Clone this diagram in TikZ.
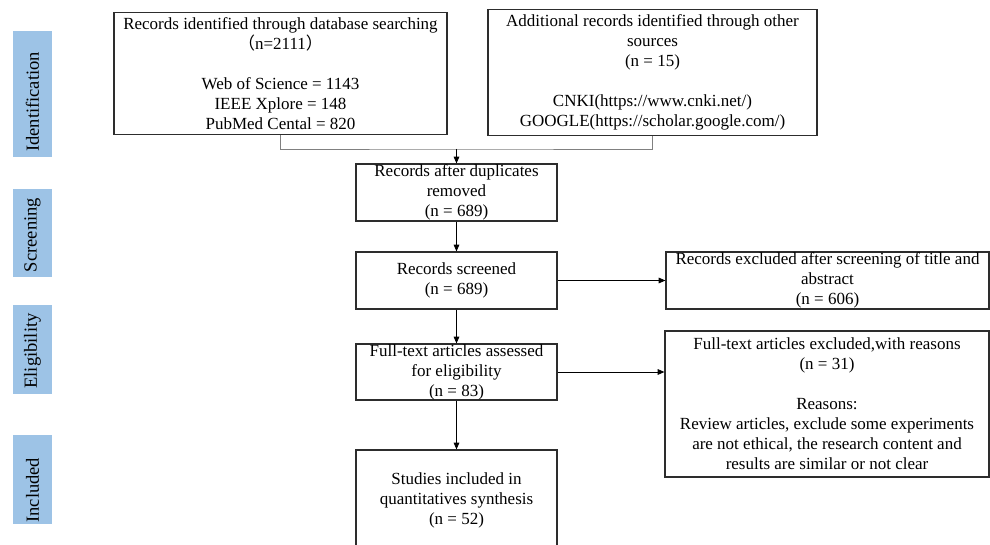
\documentclass[tikz,border=0pt]{standalone}
\usepackage{fontspec}
\setmainfont{Liberation Serif}
\newfontfamily\cjk{Noto Sans CJK SC}
\usetikzlibrary{arrows.meta, positioning}
\definecolor{stageblue}{RGB}{157,195,230}
\definecolor{boxline}{RGB}{45,45,45}
\definecolor{joingray}{RGB}{128,128,128}

\begin{document}
\begin{tikzpicture}[x=0.75pt, y=-0.75pt,
      box/.style={draw=boxline, line width=0.9pt, align=center, inner sep=0pt,
                  font=\fontsize{12.75}{15}\selectfont},
      stage/.style={fill=stageblue, rotate=90, inner sep=0pt,
                    minimum height=29.25pt, font=\fontsize{13.9}{16}\selectfont},
      arr/.style={-{Triangle[length=5pt,width=4.2pt]}, line width=0.6pt, black},
      mergeline/.style={line width=0.7pt, joingray}
    ]
    \useasboundingbox (0,0) rectangle (990,545);

    \node[stage, minimum width=94.5pt]  (ident) at (32.5,94)    {Identification\kern12pt};
    \node[stage, minimum width=66pt]    (scrn)  at (32.5,233)   {Screening\kern3pt};
    \node[stage, minimum width=66.75pt] (elig)  at (32.5,349.5) {Eligibility\kern2.25pt};
    \node[stage, minimum width=66.75pt] (incl)  at (32.5,479.5) {Included\kern16pt};

    \node[box, minimum width=249.75pt, minimum height=91.5pt] (db) at (280.5,73.5)
      {Records identified through database searching\\{\cjk （}n=2111{\cjk ）}\\[15pt]
       Web of Science = 1143\\IEEE Xplore = 148\\PubMed Cental = 820};
    \node[box, minimum width=246.75pt, minimum height=94.5pt] (other) at (652.5,72.5)
      {Additional records identified through other\\sources\\(n = 15)\\[15pt]
       CNKI(https://www.cnki.net/)\\GOOGLE(https://scholar.google.com/)};
    \node[box, minimum width=150.75pt, minimum height=42.75pt] (dup) at (456.5,192.5)
      {Records after duplicates\\removed\\(n = 689)};
    \node[box, minimum width=150.75pt, minimum height=42.75pt] (scr) at (456.5,280.5)
      {Records screened\\(n = 689)};
    \node[box, minimum width=242.25pt, minimum height=42.75pt] (exc) at (827.5,280.5)
      {Records excluded after screening of title and\\abstract\\(n = 606)};
    \node[box, minimum width=150.75pt, minimum height=42pt] (full) at (456.5,372)
      {Full-text articles assessed\\for eligibility\\(n = 83)};
    \node[box, minimum width=243pt, minimum height=109.5pt] (why) at (827,404)
      {Full-text articles excluded,with reasons\\(n = 31)\\[15pt]
       Reasons:\\Review articles, exclude some experiments\\are not ethical, the research content and\\results are similar or not clear};
    \node[box, minimum width=150.75pt, minimum height=75pt] (study) at (456.5,500)
      {Studies included in\\quantitatives synthesis\\(n = 52)};

    \coordinate (merge) at (456.5,149);
    \draw[mergeline] (db.south) |- (merge) -| (other.south);
    \draw[arr] (merge) -- (dup);
    \draw[arr] (dup) -- (scr);
    \draw[arr] (scr) -- (exc);
    \draw[arr] (scr) -- (full);
    \draw[arr] (full.east) -- (full.east -| why.west);
    \draw[arr] (full) -- (study);
  \end{tikzpicture}
\end{document}
